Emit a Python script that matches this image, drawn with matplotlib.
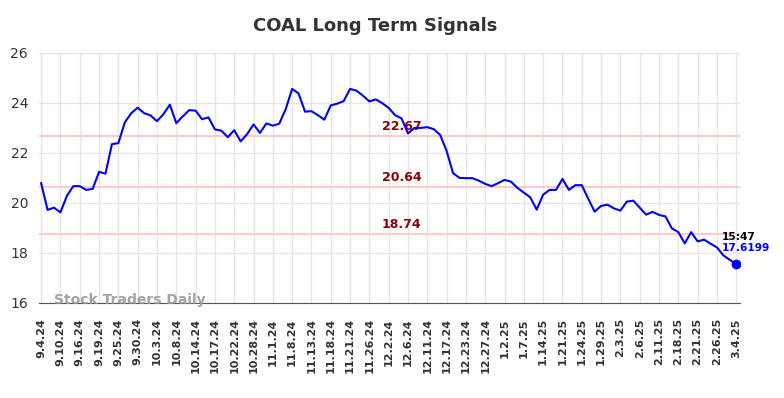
import matplotlib
matplotlib.use('Agg')
import matplotlib.pyplot as plt

# tick labels (one every 3 points)
tick_labels = ['9.4.24', '9.10.24', '9.16.24', '9.19.24', '9.25.24', '9.30.24', '10.3.24',
               '10.8.24', '10.14.24', '10.17.24', '10.22.24', '10.28.24', '11.1.24',
               '11.8.24', '11.13.24', '11.18.24', '11.21.24', '11.26.24', '12.2.24',
               '12.6.24', '12.11.24', '12.17.24', '12.23.24', '12.27.24', '1.2.25',
               '1.7.25', '1.14.25', '1.21.25', '1.24.25', '1.29.25', '2.3.25', '2.6.25',
               '2.11.25', '2.18.25', '2.21.25', '2.26.25', '3.4.25']

# closing prices
prices = [20.79, 19.72, 19.81, 19.62, 20.28, 20.67, 20.67, 20.52, 20.56, 21.24,
          21.17, 22.35, 22.39, 23.22, 23.59, 23.81, 23.59, 23.50, 23.27, 23.55,
          23.93, 23.19, 23.46, 23.71, 23.69, 23.35, 23.42, 22.94, 22.89, 22.63,
          22.91, 22.46, 22.75, 23.14, 22.80, 23.18, 23.09, 23.17, 23.75, 24.56,
          24.38, 23.65, 23.67, 23.51, 23.33, 23.90, 23.97, 24.07, 24.56, 24.49,
          24.29, 24.06, 24.14, 23.99, 23.80, 23.51, 23.38, 22.78, 23.00, 23.00,
          23.03, 22.95, 22.72, 22.08, 21.19, 21.00, 20.99, 20.99, 20.89, 20.76,
          20.67, 20.79, 20.92, 20.85, 20.60, 20.41, 20.22, 19.73, 20.33, 20.52,
          20.52, 20.96, 20.52, 20.71, 20.71, 20.17, 19.65, 19.88, 19.93, 19.78,
          19.69, 20.05, 20.09, 19.81, 19.53, 19.64, 19.52, 19.46, 18.98, 18.83,
          18.38, 18.83, 18.46, 18.53, 18.37, 18.22, 17.90, 17.72, 17.55]

signal_levels = [22.67, 20.64, 18.74]
last_time = '15:47'
last_price = '17.6199'

x = list(range(len(prices)))
tick_pos = list(range(0, len(prices), 3))

fig = plt.figure(figsize=(7.84, 3.98), dpi=100)
ax = fig.add_axes([0.05, 0.239, 0.894, 0.628])

# grid
ax.set_xticks(tick_pos)
ax.set_xticklabels(tick_labels, rotation=90, fontsize=8, fontweight='bold', color='#333333')
ax.set_yticks([16, 18, 20, 22, 24, 26])
ax.tick_params(axis='y', labelsize=10, colors='#333333', length=0, pad=8)
ax.tick_params(axis='x', length=0, pad=11)
ax.grid(True, color='#e6e6e6', linewidth=1)
ax.set_axisbelow(True)

for s in ['top', 'right', 'left']:
    ax.spines[s].set_visible(False)
ax.spines['bottom'].set_color('#555555')

# signal lines
mid = 56
for lvl in signal_levels:
    ax.axhline(lvl, color='#ffcccc', linewidth=1.5, zorder=1)
    ax.text(mid, lvl + 0.12, f'{lvl:.2f}', color='#8b0000', fontsize=9,
            fontweight='bold', ha='center', va='bottom', zorder=2)

ax.plot(x, prices, color='#0000ff', linewidth=1.5, zorder=3)
ax.plot(x[-1], prices[-1], 'o', color='#0000ff', markersize=6, zorder=4)

ax.text(x[-1] - 2.3, 18.45, last_time, color='black', fontsize=7.7, fontweight='bold',
        ha='left', va='bottom')
ax.text(x[-1] - 2.3, 18.38, last_price, color='#0000ff', fontsize=7.7, fontweight='bold',
        ha='left', va='top')

ax.text(2, 16.1, 'Stock Traders Daily', color='#999999', fontsize=10,
        fontweight='bold', ha='left', va='center', alpha=0.9)

ax.set_xlim(-0.3, 108.6)
ax.set_ylim(16, 26)

fig.suptitle('COAL Long Term Signals', x=0.478, y=0.957, fontsize=13,
             fontweight='bold', color='#333333')

fig.savefig('out.png', dpi=100)
